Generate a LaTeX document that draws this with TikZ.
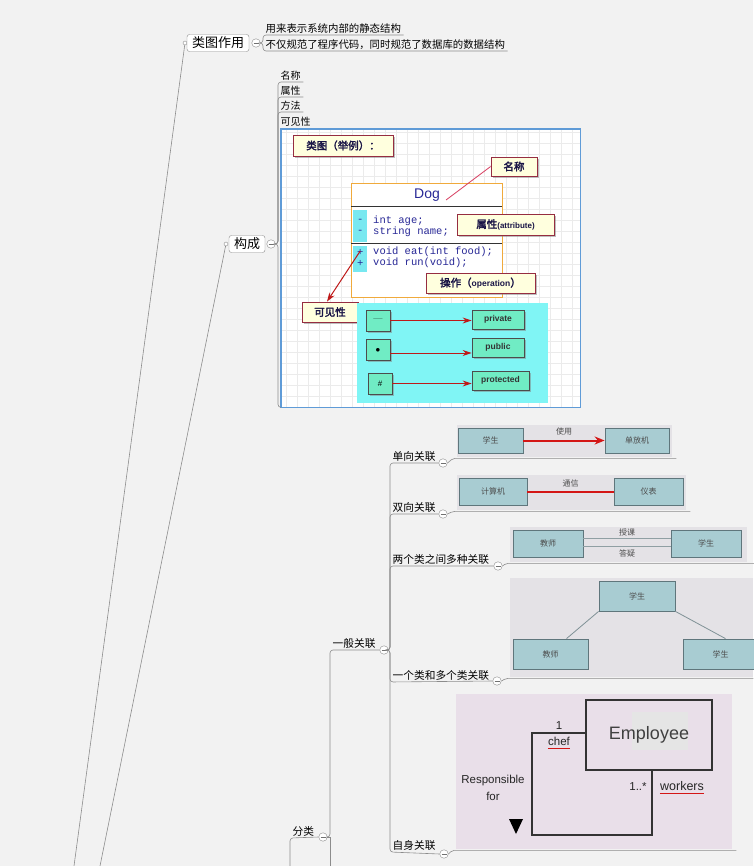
\documentclass[tikz,border=0pt]{standalone}
\usepackage{fontspec}
\setsansfont{Liberation Sans}
\setmonofont{Liberation Mono}
\newfontfamily\cjk[AutoFakeBold=2.5]{Noto Sans CJK SC}
\usepackage{tikz}
\usetikzlibrary{arrows.meta,positioning,calc,shadows}
\definecolor{paper}{RGB}{242,242,242}
\definecolor{mmline}{RGB}{140,140,140}
\definecolor{imgblue}{RGB}{95,155,215}
\definecolor{notefill}{RGB}{255,255,222}
\definecolor{notebrd}{RGB}{150,45,65}
\definecolor{notetxt}{RGB}{25,20,70}
\definecolor{dogorange}{RGB}{240,170,60}
\definecolor{codeblue}{RGB}{40,40,150}
\definecolor{stripcyan}{RGB}{120,232,240}
\definecolor{viscyan}{RGB}{128,245,245}
\definecolor{vismint}{RGB}{112,236,196}
\definecolor{arrred}{RGB}{190,25,25}
\definecolor{pinkline}{RGB}{215,60,95}
\definecolor{panelgray}{RGB}{228,226,230}
\definecolor{panelpink}{RGB}{233,223,233}
\definecolor{umlfill}{RGB}{168,204,210}
\definecolor{umlbrd}{RGB}{95,118,124}
\definecolor{assocred}{RGB}{212,22,22}
\newcommand{\sz}[1]{\fontsize{#1}{#1}\selectfont}

\begin{document}
\begin{tikzpicture}[x=1pt,y=-1pt,
  every node/.style={inner sep=1pt},
  br/.style={draw=mmline,line width=0.6pt},
  topic/.style={draw=mmline,rounded corners=2.5pt,fill=white,inner xsep=5pt,inner ysep=2.5pt,font=\cjk\sz{13}},
  leaf/.style={anchor=south west,inner xsep=2.5pt,inner ysep=1.5pt,font=\cjk\sz{10.4}},
  sub/.style={leaf,font=\cjk\sz{10.7}},
  fold/.style={circle,draw=mmline,fill=white,minimum size=8.5pt,inner sep=0pt,
    path picture={\draw[mmline!80!black,line width=0.6pt] ([xshift=-2.5pt]path picture bounding box.center) -- ([xshift=2.5pt]path picture bounding box.center);}},
  dot/.style={circle,draw=mmline,fill=white,minimum size=4pt,inner sep=0pt},
  note/.style={draw=notebrd,fill=notefill,line width=0.8pt,font=\cjk\bfseries\sz{10.5},text=notetxt,
    drop shadow={shadow xshift=2pt,shadow yshift=-2pt,fill=black!50,opacity=0.5}},
  code/.style={anchor=west,font=\ttfamily\sz{10.5},text=codeblue,inner sep=0pt},
  visbox/.style={draw=black!70,fill=vismint,line width=0.8pt,minimum width=24,minimum height=21,
    drop shadow={shadow xshift=1.5pt,shadow yshift=-1.5pt,fill=black!50,opacity=0.5}},
  vistag/.style={visbox,minimum width=52,minimum height=19,font=\sffamily\bfseries\sz{8.5},text=black!80},
  redarr/.style={draw=arrred,line width=1pt,-{Stealth[length=9pt,width=6pt]}},
  panel/.style={fill=panelgray,anchor=north west,inner sep=0pt},
  cls/.style={draw=umlbrd,fill=umlfill,line width=0.8pt,font=\cjk\sz{8},text=black!70},
  lbl/.style={font=\cjk\sz{8},text=black!70,inner sep=1.5pt},
  assoc/.style={draw=assocred,line width=2pt},
  uml/.style={font=\sffamily\sz{11.5},text=black!85,inner sep=0pt}
]
\useasboundingbox (0,0) rectangle (753,866);
\fill[paper] (0,0) rectangle (753,866);

% trunk
\coordinate (low1) at (74,866);
\coordinate (low2) at (100,866);

% role of the class diagram
\node[dot] (r1) at (185,43) {};
\node[topic] (role) at (218,43) {类图作用};
\node[fold] (f1) at (256,43) {};
\node[leaf] (r1a) at (263,35) {用来表示系统内部的静态结构};
\node[leaf] (r1b) at (263,51) {不仅规范了程序代码，同时规范了数据库的数据结构};
\draw[br] (r1) -- (low1);
\draw[br,rounded corners=3pt] (f1.east) -| (r1a.south west) -- (r1a.south east);
\draw[br,rounded corners=3pt] (f1.east) -| (r1b.south west) -- (r1b.south east);

% parts
\node[dot] (r2) at (226,244) {};
\node[topic] (parts) at (247,244) {构成};
\node[fold] (f2) at (271,244) {};
\draw[br] (r2) -- (low2);
\node[leaf,font=\cjk\sz{10}] (p1) at (278,82) {名称};
\node[leaf,font=\cjk\sz{10}] (p2) at (278,97) {属性};
\node[leaf,font=\cjk\sz{10}] (p3) at (278,112) {方法};
\node[leaf,font=\cjk\sz{10}] (p4) at (278,128) {可见性};
\node[anchor=north west,minimum width=299,minimum height=278,fill=white,inner sep=0pt] (img) at (281,129) {};
\draw[black!8,step=11pt] (img.north west) grid (img.south east);
\draw[imgblue,line width=1.5pt] (img.north west) rectangle (img.south east);
\foreach \n in {p1,p2,p3}
  \draw[br,rounded corners=3pt] (f2.east) -| (\n.south west) -- (\n.south east);
\draw[br,rounded corners=3pt] (f2.east) -| ([xshift=-3pt]img.south west) -- (img.south west);

% class example
\node[note,minimum width=100,minimum height=21] (ex) at (343,145.5) {类图（举例）：};
\node[draw=dogorange,fill=white,line width=1pt,anchor=north west,minimum width=151,minimum height=114,inner sep=0pt] (dog) at (351,183) {};
\draw[black!80,line width=1pt] (351,207) -- (502,207);
\draw[black!80,line width=1pt] (351,244) -- (502,244);
\node[font=\sffamily\sz{14},text=codeblue] (dogname) at (427,195) {Dog};
\node[fill=stripcyan,anchor=north west,minimum width=14,minimum height=32,inner sep=0pt] (s1) at (353,210) {};
\node[fill=stripcyan,anchor=north west,minimum width=14,minimum height=26,inner sep=0pt] (s2) at (353,246) {};
\node[code] (m1) at (357,221) {-};
\node[code] (m2) at (357,232) {-};
\node[code] (m3) at (357,252) {+};
\node[code] (m4) at (357,263) {+};
\node[code] (a1) at (373,221) {int age;};
\node[code] (a2) at (373,232) {string name;};
\node[code] (o1) at (373,252) {void eat(int food);};
\node[code] (o2) at (373,263) {void run(void);};
\node[note,minimum width=46,minimum height=19] (nm) at (514,166.5) {名称};
\node[note,minimum width=97,minimum height=21] (at) at (505.5,224.5) {属性{\sffamily\bfseries\sz{8}(attribute)}};
\node[note,minimum width=109,minimum height=20] (op) at (480.5,283) {操作（{\sffamily\bfseries\sz{8.5}operation}）};
\node[note,minimum width=56,minimum height=20] (vi) at (330,312) {可见性};
\draw[pinkline,line width=0.8pt] (nm.west) -- ([xshift=5pt,yshift=-5pt]dogname.east);
\draw[redarr] ([yshift=-5pt]s2.north) -- ([xshift=-3pt]vi.north);

% visibility marks
\node[fill=viscyan,anchor=north west,minimum width=191,minimum height=100,inner sep=0pt] (vp) at (357,303) {};
\node[visbox] (vpriv) at (378,320.5) {\sz{9}—};
\node[visbox] (vpub) at (378,350) {\sz{9}$\bullet$};
\node[visbox] (vprot) at (380,383.5) {\sffamily\sz{8}\#};
\node[vistag] (tpriv) at (498,319.5) {private};
\node[vistag] (tpub) at (498,347.5) {public};
\node[vistag,minimum width=57] (tprot) at (500.5,380.5) {protected};
\draw[redarr] (vpriv.east) -- (vpriv.east -| tpriv.west);
\draw[redarr] ([yshift=-3pt]vpub.east) -- ([yshift=-3pt]vpub.east -| tpub.west);
\draw[redarr] (vprot.east) -- (vprot.east -| tprot.west);

% classification
\coordinate (catin) at (290,866);
\coordinate (catlow) at (330,866);
\node[sub] (cat) at (290,838) {分类};
\node[fold] (fcat) at (323,837) {};
\draw[br,rounded corners=3pt] (catin) -- (cat.south west) -- (fcat.west);
\node[sub] (gen) at (330,650) {一般关联};
\node[fold] (fgen) at (384,650) {};
\draw[br,rounded corners=3pt] (fcat.east) -| (gen.south west) -- (fgen.west);
\draw[br] (fcat.east) -| (catlow);

\node[sub] (k1) at (390,463) {单向关联};
\node[fold] (fk1) at (443,463) {};
\node[sub] (k2) at (390,514) {双向关联};
\node[fold] (fk2) at (443,514) {};
\node[sub] (k3) at (390,566) {两个类之间多种关联};
\node[fold] (fk3) at (498,566) {};
\node[sub] (k4) at (390,682) {一个类和多个类关联};
\node[fold] (fk4) at (497,681) {};
\node[sub] (k5) at (390,852) {自身关联};
\node[fold] (fk5) at (444,854) {};
\foreach \k in {1,...,5}
  \draw[br,rounded corners=3pt] (fgen.east) -| (k\k.south west) -- (fk\k.west);

% one-way
\node[panel,minimum width=215,minimum height=32] (q1) at (457,425) {};
\node[cls,minimum width=65,minimum height=25] (c11) at (490.5,440.5) {学生};
\node[cls,minimum width=64,minimum height=25] (c12) at (637,440.5) {单放机};
\draw[assoc,-{Stealth[length=10pt,width=8pt]}] (c11.east) -- (c12.west) node[lbl,midway,above=3pt] {使用};
\draw[br,rounded corners=2pt] (fk1.east) -- ([xshift=-4pt,yshift=-1pt]q1.south west) -- ([xshift=4pt,yshift=-1pt]q1.south east);

% two-way
\node[panel,minimum width=229,minimum height=35] (q2) at (457,475) {};
\node[cls,minimum width=68,minimum height=27] (c21) at (493,491.5) {计算机};
\node[cls,minimum width=69,minimum height=27] (c22) at (648.5,491.5) {仪表};
\draw[assoc] (c21.east) -- (c22.west) node[lbl,midway,above=2pt] {通信};
\draw[br,rounded corners=2pt] (fk2.east) -- ([xshift=-4pt,yshift=-1pt]q2.south west) -- ([xshift=4pt,yshift=-1pt]q2.south east);

% several associations
\node[panel,minimum width=237,minimum height=35] (q3) at (510,527) {};
\node[cls,minimum width=70,minimum height=27] (c31) at (548,543.5) {教师};
\node[cls,minimum width=70,minimum height=27] (c32) at (706,543.5) {学生};
\draw[umlbrd!70,line width=1pt] ([yshift=5pt]c31.east) -- ([yshift=5pt]c32.west) node[lbl,midway,above=0pt] {授课};
\draw[umlbrd!70,line width=1pt] ([yshift=-3pt]c31.east) -- ([yshift=-3pt]c32.west) node[lbl,midway,below=1pt] {答疑};
\draw[br,rounded corners=2pt] (fk3.east) -- ([xshift=-4pt,yshift=-1pt]q3.south west) -- ([xshift=8pt,yshift=-1pt]q3.south east);

% one to many
\node[panel,minimum width=243,minimum height=99] (q4) at (510,578) {};
\node[cls,minimum width=76,minimum height=30] (c41) at (637,596) {学生};
\node[cls,minimum width=75,minimum height=30] (c42) at (550.5,654) {教师};
\node[cls,minimum width=75,minimum height=30] (c43) at (720.5,654) {学生};
\draw[umlbrd!80,line width=0.8pt] (c41.south west) -- ([xshift=16pt]c42.north);
\draw[umlbrd!80,line width=0.8pt] (c41.south east) -- ([xshift=5pt]c43.north);
\draw[br,rounded corners=2pt] (fk4.east) -- ([xshift=-4pt,yshift=-1pt]q4.south west) -- ([yshift=-1pt]q4.south east);

% self association
\node[panel,fill=panelpink,minimum width=276,minimum height=155] (q5) at (456,694) {};
\fill[black!10] (632,712) rectangle (688,750);
\node[draw=black!80,line width=1.2pt,minimum width=126,minimum height=70,font=\sffamily\sz{18},text=black!75] (emp) at (649,735) {Employee};
\draw[black!80,line width=1.2pt] ([yshift=2pt]emp.west) -| (532,835) -| ([xshift=3pt]emp.south);
\node[uml] (one) at (559,726) {1};
\node[uml] (chef) at (559,741) {chef};
\draw[assocred,line width=1.2pt] ([yshift=-3pt]chef.south west) -- ([yshift=-3pt]chef.south east);
\node[uml] (resp) at (493,781) {Responsible};
\node[uml] (for) at (493,796) {for};
\fill[black] (509,819) -- (523,819) -- (516,834) -- cycle;
\node[uml] (many) at (638,787) {1..*};
\node[uml,font=\sffamily\sz{12.5}] (wrk) at (682,786) {workers};
\draw[assocred,line width=1.2pt] ([yshift=-3pt]wrk.south west) -- ([yshift=-3pt]wrk.south east);
\draw[br,rounded corners=2pt] (fk5.east) -- ([xshift=-4pt,yshift=-1pt]q5.south west) -- ([xshift=4pt,yshift=-1pt]q5.south east);
\end{tikzpicture}
\end{document}
